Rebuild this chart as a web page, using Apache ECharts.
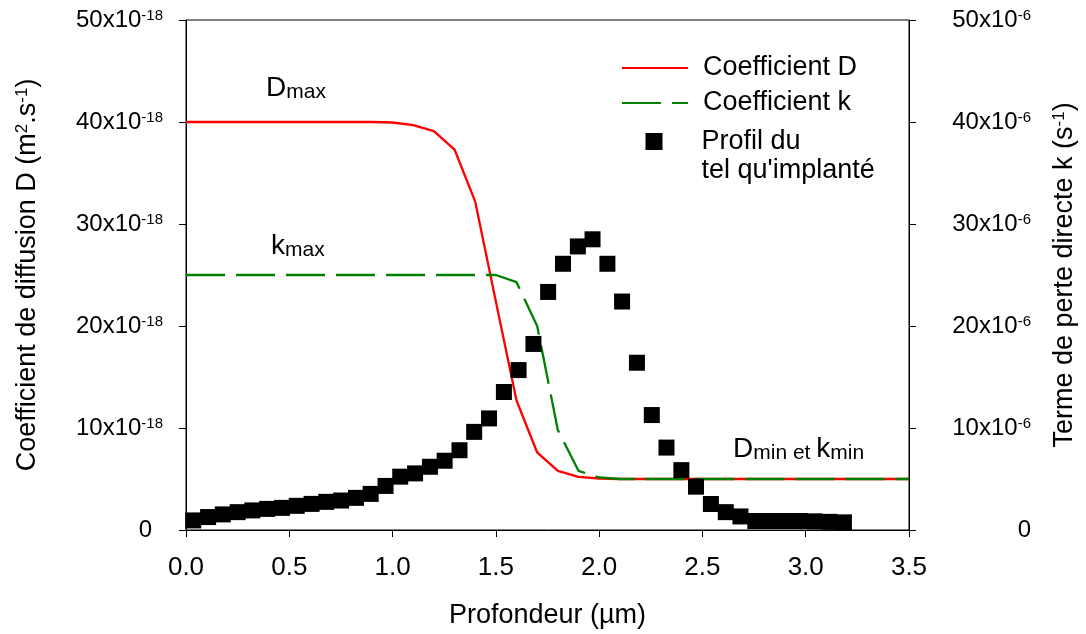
<!DOCTYPE html>
<html><head><meta charset="utf-8">
<script src="https://cdn.jsdelivr.net/npm/echarts@6/dist/echarts.min.js"></script>
<style>html,body{margin:0;padding:0;background:#fff}#c{width:1086px;height:634px}</style>
</head><body><div id="c"></div>
<script>
// ---- data ----
const depthD = [0,0.1,0.2,0.3,0.4,0.5,0.6,0.7,0.8,0.9,1.0,1.1,1.2,1.3,1.4,1.5,1.6,1.7,1.8,1.9,2.0,2.1,2.2,2.3,2.4,2.5,2.6,2.7,2.8,2.9,3.0,3.1,3.2,3.3,3.4,3.5];
const coefD = [40,40,40,40,40,40,40,40,40,40,39.95,39.7,39.1,37.3,32.2,22.4,12.7,7.6,5.8,5.2,5.05,5,5,5,5,5,5,5,5,5,5,5,5,5,5,5];
const depthK = [0,0.1,0.2,0.3,0.4,0.5,0.6,0.7,0.8,0.9,1.0,1.1,1.2,1.3,1.4,1.5,1.6,1.7,1.8,1.9,2.0,2.1,2.2,2.3,2.4,2.5,2.6,2.7,2.8,2.9,3.0,3.1,3.2,3.3,3.4,3.5];
const coefK = [25,25,25,25,25,25,25,25,25,25,25,25,25,25,25,25,24.3,20.0,9.8,5.8,5.15,5,5,5,5,5,5,5,5,5,5,5,5,5,5,5];
const depthProfile = [0.035,0.107,0.178,0.250,0.321,0.393,0.465,0.536,0.608,0.679,0.751,0.823,0.894,0.966,1.037,1.109,1.181,1.252,1.324,1.395,1.467,1.539,1.610,1.682,1.753,1.825,1.897,1.968,2.040,2.111,2.183,2.255,2.326,2.398,2.469,2.541,2.613,2.684,2.756,2.827,2.899,2.971,3.042,3.114,3.185];
const profile = [0.94,1.27,1.53,1.75,1.92,2.07,2.17,2.37,2.56,2.76,2.89,3.15,3.54,4.32,5.23,5.55,6.2,6.79,7.82,9.62,10.94,13.53,15.68,18.24,23.34,26.1,27.8,28.5,26.1,22.4,16.4,11.27,8.08,5.87,4.25,2.55,1.75,1.33,0.88,0.88,0.88,0.88,0.85,0.80,0.75];
const xTicks = {min:0, max:3.5, step:0.5};
const yTicks = {min:0, max:50, step:10};
const nameD = 'Coefficient D';
const nameK = 'Coefficient k';
const nameP = "Profil du tel qu'implanté";

const FONT = "'Liberation Sans', Arial, sans-serif";
const chart = echarts.init(document.getElementById('c'), null, {renderer:'canvas'});
const pair = (xs, ys) => xs.map((x,i)=>[x, ys[i]]);
const supRich = {
  a:{fontSize:24, lineHeight:24, verticalAlign:'middle', fontFamily:FONT, color:'#000'},
  s:{fontSize:15, lineHeight:12, verticalAlign:'top', fontFamily:FONT, color:'#000'},
  z:{fontSize:24, lineHeight:24, fontFamily:FONT, color:'#000', padding:[0,11,0,0]},
  z2:{fontSize:24, lineHeight:24, fontFamily:FONT, color:'#000'}
};
const nameRich = {
  a:{fontSize:27, lineHeight:27, verticalAlign:'middle', fontFamily:FONT, color:'#000'},
  s:{fontSize:17, lineHeight:14, verticalAlign:'top', fontFamily:FONT, color:'#000'}
};
const annRich = {
  b:{fontSize:28, lineHeight:28, verticalAlign:'bottom', fontFamily:FONT, fill:'#000', color:'#000'},
  sub:{fontSize:21, lineHeight:16, verticalAlign:'bottom', fontFamily:FONT, fill:'#000', color:'#000'}
};
const axisCommon = {
  type:'value', min:yTicks.min, max:yTicks.max, interval:yTicks.step,
  axisLine:{show:true, lineStyle:{color:'#000', width:1}},
  axisTick:{show:true, inside:false, length:7, lineStyle:{color:'#000'}},
  splitLine:{show:false}
};
chart.setOption({
  animation:false,
  backgroundColor:'#fff',
  textStyle:{fontFamily:FONT},
  grid:{left:186, right:171, top:20, bottom:101, show:true, borderColor:'#000', borderWidth:1, backgroundColor:'transparent'},
  xAxis:{
    type:'value', min:xTicks.min, max:xTicks.max, interval:xTicks.step,
    axisLine:{show:true, onZero:false, lineStyle:{color:'#000', width:1}},
    axisTick:{show:true, inside:false, length:7, lineStyle:{color:'#000'}},
    splitLine:{show:false},
    axisLabel:{fontSize:26, color:'#000', margin:25, fontFamily:FONT, formatter:v=>v.toFixed(1)},
    name:'Profondeur (µm)', nameLocation:'middle', nameGap:72,
    nameTextStyle:{fontSize:27, color:'#000', fontFamily:FONT}
  },
  yAxis:[
    Object.assign({}, axisCommon, {
      position:'left',
      axisLabel:{margin:23, formatter:v=> v===0 ? '{z|0}' : '{a|'+v+'x10}{s|-18}', rich:supRich},
      name:'{a|Coefficient de diffusion D (m}{s|2}{a|.s}{s|-1}{a|)}',
      nameLocation:'middle', nameRotate:90, nameGap:145,
      nameTextStyle:{rich:nameRich}
    }),
    Object.assign({}, axisCommon, {
      position:'right',
      axisLabel:{margin:122, align:'right', formatter:v=> v===0 ? '{z2|0}' : '{a|'+v+'x10}{s|-6}', rich:supRich},
      name:'{a|Terme de perte directe k (s}{s|-1}{a|)}',
      nameLocation:'middle', nameRotate:90, nameGap:142,
      nameTextStyle:{rich:nameRich}
    })
  ],
  legend:[
    {data:[nameD, nameK], orient:'vertical', left:621, top:53, padding:0, itemWidth:66, itemHeight:17, itemGap:5,
     selectedMode:false, itemStyle:{opacity:0}, lineStyle:{opacity:1},
     textStyle:{fontSize:27, lineHeight:30, color:'#000', fontFamily:FONT, padding:[0,0,0,10]}},
    {data:[nameP], orient:'vertical', left:645.5, top:98, padding:0, itemWidth:17, itemHeight:17,
     selectedMode:false, formatter:()=>"\u00a0\nProfil du\ntel qu'implanté",
     textStyle:{fontSize:27, lineHeight:29, color:'#000', fontFamily:FONT, padding:[0,0,0,34]}}
  ],
  series:[
    {name:nameD, type:'line', xAxisIndex:0, yAxisIndex:0, data:pair(depthD, coefD), symbol:'none', showSymbol:false,
     lineStyle:{color:'#ff0000', width:2.3}, itemStyle:{color:'#ff0000'}, z:2},
    {name:nameK, type:'line', xAxisIndex:0, yAxisIndex:1, data:pair(depthK, coefK), symbol:'none', showSymbol:false,
     lineStyle:{color:'#008000', width:2.3, type:[39,11]}, itemStyle:{color:'#008000'}, z:3},
    {name:nameP, type:'scatter', xAxisIndex:0, yAxisIndex:0, data:pair(depthProfile, profile), symbol:'rect', symbolSize:16,
     itemStyle:{color:'#000', opacity:1}, z:4}
  ],
  graphic:[
    {type:'text', x:266, y:74.6, style:{text:'{b|D}{sub|max}', rich:annRich, verticalAlign:'top', align:'left'}},
    {type:'text', x:271, y:232.6, style:{text:'{b|k}{sub|max}', rich:annRich, verticalAlign:'top', align:'left'}},
    {type:'text', x:733, y:435.6, style:{text:'{b|D}{sub|min et }{b|k}{sub|min}', rich:annRich, verticalAlign:'top', align:'left'}}
  ]
});
</script></body></html>
